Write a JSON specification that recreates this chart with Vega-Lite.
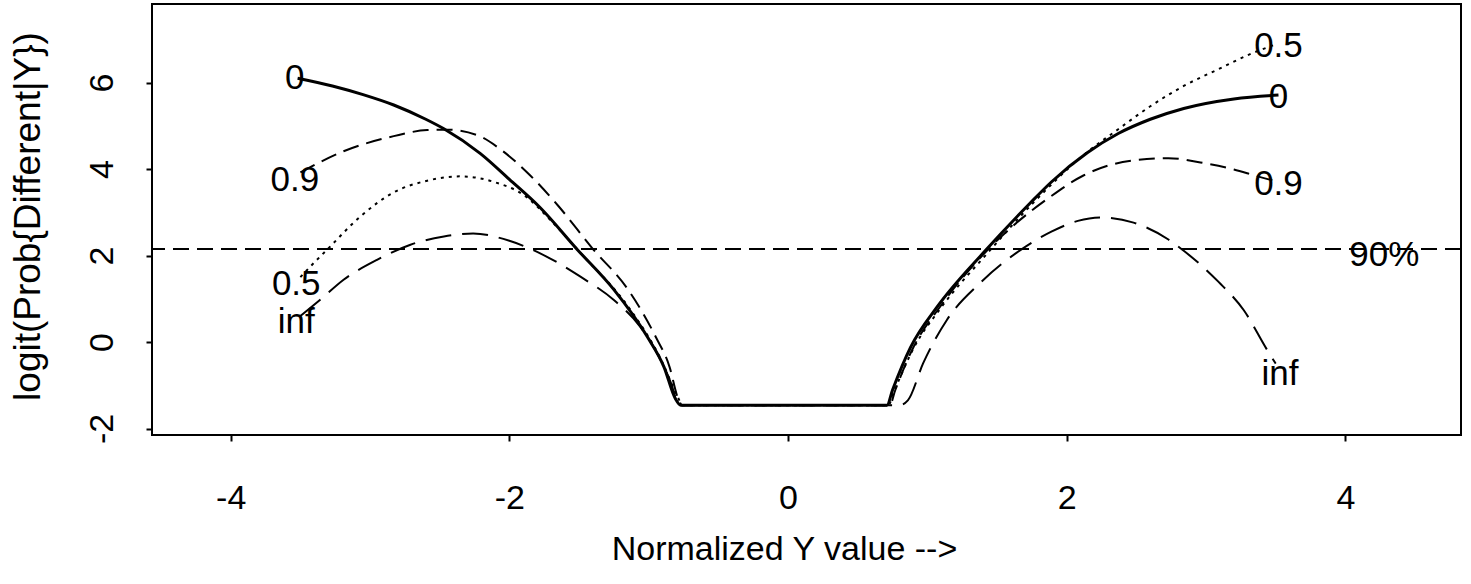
{
  "$schema": "https://vega.github.io/schema/vega-lite/v6.json",
  "width": 1309,
  "height": 431,
  "autosize": "none",
  "padding": {"left": 152, "top": 4, "right": 10, "bottom": 149},
  "background": "white",
  "config": {
    "view": {"stroke": "black", "strokeWidth": 2},
    "font": "Liberation Sans",
    "axis": {
      "domain": false, "grid": false, "ticks": true, "tickColor": "black", "tickWidth": 2, "tickSize": 6,
      "labelFont": "Liberation Sans", "labelFontSize": 34, "labelColor": "black", "labelFlush": false, "labelOverlap": false,
      "labelExpr": "'' + datum.value",
      "titleFont": "Liberation Sans", "titleFontSize": 34, "titleColor": "black", "titleFontWeight": "normal"
    },
    "axisX": {"labelPadding": 40, "labelBaseline": "top", "labelAngle": 0, "labelAlign": "center", "titleX": 632, "titleY": 124, "titleBaseline": "alphabetic", "titleAlign": "center", "titleAngle": 0},
    "axisY": {"labelAngle": -90, "labelAlign": "center", "labelBaseline": "alphabetic", "labelPadding": 34, "titleAngle": -90, "titleX": -113, "titleY": 212, "titleAlign": "center", "titleBaseline": "alphabetic", "titleFontSize": 37}
  },
  "datasets": {
    "curves": [
      {"series": "0", "x": -3.52, "y": 6.10}, {"series": "0", "x": -3.27, "y": 5.92}, {"series": "0", "x": -3.05, "y": 5.72}, {"series": "0", "x": -2.83, "y": 5.48}, {"series": "0", "x": -2.60, "y": 5.15}, {"series": "0", "x": -2.47, "y": 4.93}, {"series": "0", "x": -2.21, "y": 4.36}, {"series": "0", "x": -2.00, "y": 3.76}, {"series": "0", "x": -1.78, "y": 3.11}, {"series": "0", "x": -1.51, "y": 2.13}, {"series": "0", "x": -1.25, "y": 1.21}, {"series": "0", "x": -1.01, "y": 0.12}, {"series": "0", "x": -0.89, "y": -0.58}, {"series": "0", "x": -0.81, "y": -1.30}, {"series": "0", "x": -0.77, "y": -1.46}, {"series": "0", "x": 0.71, "y": -1.46}, {"series": "0", "x": 0.75, "y": -1.11}, {"series": "0", "x": 0.88, "y": -0.12}, {"series": "0", "x": 1.07, "y": 0.81}, {"series": "0", "x": 1.41, "y": 2.09}, {"series": "0", "x": 1.74, "y": 3.22}, {"series": "0", "x": 1.89, "y": 3.70}, {"series": "0", "x": 2.15, "y": 4.38}, {"series": "0", "x": 2.37, "y": 4.82}, {"series": "0", "x": 2.60, "y": 5.15}, {"series": "0", "x": 2.84, "y": 5.40}, {"series": "0", "x": 3.20, "y": 5.62}, {"series": "0", "x": 3.52, "y": 5.71},

      {"series": "0.9", "x": -3.50, "y": 3.92}, {"series": "0.9", "x": -3.19, "y": 4.41}, {"series": "0.9", "x": -2.83, "y": 4.76}, {"series": "0.9", "x": -2.59, "y": 4.90}, {"series": "0.9", "x": -2.45, "y": 4.91}, {"series": "0.9", "x": -2.23, "y": 4.78}, {"series": "0.9", "x": -2.05, "y": 4.42}, {"series": "0.9", "x": -1.85, "y": 3.85}, {"series": "0.9", "x": -1.65, "y": 3.15}, {"series": "0.9", "x": -1.40, "y": 2.15}, {"series": "0.9", "x": -1.15, "y": 1.22}, {"series": "0.9", "x": -0.95, "y": 0.12}, {"series": "0.9", "x": -0.85, "y": -0.58}, {"series": "0.9", "x": -0.79, "y": -1.30}, {"series": "0.9", "x": -0.76, "y": -1.46}, {"series": "0.9", "x": 0.73, "y": -1.46}, {"series": "0.9", "x": 0.77, "y": -1.11}, {"series": "0.9", "x": 0.90, "y": -0.12}, {"series": "0.9", "x": 1.09, "y": 0.81}, {"series": "0.9", "x": 1.43, "y": 2.12}, {"series": "0.9", "x": 1.62, "y": 2.70}, {"series": "0.9", "x": 1.87, "y": 3.33}, {"series": "0.9", "x": 2.12, "y": 3.85}, {"series": "0.9", "x": 2.32, "y": 4.10}, {"series": "0.9", "x": 2.48, "y": 4.20}, {"series": "0.9", "x": 2.73, "y": 4.25}, {"series": "0.9", "x": 2.96, "y": 4.15}, {"series": "0.9", "x": 3.20, "y": 3.99}, {"series": "0.9", "x": 3.37, "y": 3.83}, {"series": "0.9", "x": 3.50, "y": 3.72},

      {"series": "0.5", "x": -3.50, "y": 1.50}, {"series": "0.5", "x": -3.43, "y": 1.74}, {"series": "0.5", "x": -3.31, "y": 2.13}, {"series": "0.5", "x": -3.07, "y": 2.90}, {"series": "0.5", "x": -2.83, "y": 3.46}, {"series": "0.5", "x": -2.59, "y": 3.73}, {"series": "0.5", "x": -2.35, "y": 3.83}, {"series": "0.5", "x": -2.12, "y": 3.71}, {"series": "0.5", "x": -1.88, "y": 3.36}, {"series": "0.5", "x": -1.70, "y": 2.80}, {"series": "0.5", "x": -1.49, "y": 2.06}, {"series": "0.5", "x": -1.13, "y": 0.74}, {"series": "0.5", "x": -0.92, "y": -0.35}, {"series": "0.5", "x": -0.79, "y": -1.28}, {"series": "0.5", "x": -0.76, "y": -1.46}, {"series": "0.5", "x": 0.72, "y": -1.46}, {"series": "0.5", "x": 0.76, "y": -1.15}, {"series": "0.5", "x": 0.90, "y": -0.15}, {"series": "0.5", "x": 1.09, "y": 0.76}, {"series": "0.5", "x": 1.43, "y": 2.05}, {"series": "0.5", "x": 1.76, "y": 3.22}, {"series": "0.5", "x": 2.12, "y": 4.32}, {"series": "0.5", "x": 2.37, "y": 4.92}, {"series": "0.5", "x": 2.60, "y": 5.45}, {"series": "0.5", "x": 2.84, "y": 5.92}, {"series": "0.5", "x": 3.09, "y": 6.31}, {"series": "0.5", "x": 3.32, "y": 6.66}, {"series": "0.5", "x": 3.50, "y": 6.88},

      {"series": "inf", "x": -3.50, "y": 0.60}, {"series": "inf", "x": -3.36, "y": 0.97}, {"series": "inf", "x": -3.19, "y": 1.44}, {"series": "inf", "x": -2.95, "y": 1.90}, {"series": "inf", "x": -2.71, "y": 2.25}, {"series": "inf", "x": -2.47, "y": 2.44}, {"series": "inf", "x": -2.26, "y": 2.51}, {"series": "inf", "x": -2.00, "y": 2.34}, {"series": "inf", "x": -1.73, "y": 1.97}, {"series": "inf", "x": -1.49, "y": 1.51}, {"series": "inf", "x": -1.25, "y": 0.97}, {"series": "inf", "x": -1.06, "y": 0.35}, {"series": "inf", "x": -0.94, "y": -0.26}, {"series": "inf", "x": -0.84, "y": -0.95}, {"series": "inf", "x": -0.79, "y": -1.42}, {"series": "inf", "x": -0.77, "y": -1.46}, {"series": "inf", "x": 0.80, "y": -1.46}, {"series": "inf", "x": 0.86, "y": -1.35}, {"series": "inf", "x": 0.97, "y": -0.49}, {"series": "inf", "x": 1.14, "y": 0.51}, {"series": "inf", "x": 1.38, "y": 1.37}, {"series": "inf", "x": 1.67, "y": 2.13}, {"series": "inf", "x": 1.89, "y": 2.55}, {"series": "inf", "x": 2.08, "y": 2.80}, {"series": "inf", "x": 2.25, "y": 2.88}, {"series": "inf", "x": 2.48, "y": 2.76}, {"series": "inf", "x": 2.73, "y": 2.37}, {"series": "inf", "x": 2.84, "y": 2.11}, {"series": "inf", "x": 3.09, "y": 1.39}, {"series": "inf", "x": 3.27, "y": 0.74}, {"series": "inf", "x": 3.44, "y": -0.19}, {"series": "inf", "x": 3.50, "y": -0.50}
    ],
    "labels": [
      {"label": "0", "x": -3.54, "y": 6.14}, {"label": "0.9", "x": -3.54, "y": 3.79}, {"label": "0.5", "x": -3.53, "y": 1.38}, {"label": "inf", "x": -3.53, "y": 0.51},
      {"label": "0.5", "x": 3.52, "y": 6.89}, {"label": "0", "x": 3.52, "y": 5.71}, {"label": "0.9", "x": 3.52, "y": 3.69}, {"label": "inf", "x": 3.53, "y": -0.70},
      {"label": "90%", "x": 4.28, "y": 2.06}
    ],
    "threshold": [{"y": 2.15}]
  },
  "layer": [
    {
      "data": {"name": "threshold"},
      "mark": {"type": "rule", "color": "black", "strokeWidth": 2, "strokeDash": [16, 8]},
      "encoding": {
        "y": {"field": "y", "type": "quantitative", "scale": {"domain": [-2.15, 7.815], "nice": false, "zero": false}, "title": "logit(Prob{Different|Y})", "axis": {"values": [-2, 0, 2, 4, 6]}}
      }
    },
    {
      "data": {"name": "curves"},
      "transform": [{"filter": "datum.series == '0'"}],
      "mark": {"type": "line", "color": "black", "strokeWidth": 3, "interpolate": "monotone"},
      "encoding": {
        "x": {"field": "x", "type": "quantitative", "scale": {"domain": [-4.565, 4.83], "nice": false, "zero": false}, "title": "Normalized Y value -->", "axis": {"values": [-4, -2, 0, 2, 4]}},
        "y": {"field": "y", "type": "quantitative", "scale": {"domain": [-2.15, 7.815], "nice": false, "zero": false}, "title": "logit(Prob{Different|Y})"}
      }
    },
    {
      "data": {"name": "curves"},
      "transform": [{"filter": "datum.series == '0.9'"}],
      "mark": {"type": "line", "color": "black", "strokeWidth": 2, "strokeDash": [16, 8], "interpolate": "monotone"},
      "encoding": {
        "x": {"field": "x", "type": "quantitative", "scale": {"domain": [-4.565, 4.83], "nice": false, "zero": false}, "title": "Normalized Y value -->"},
        "y": {"field": "y", "type": "quantitative", "scale": {"domain": [-2.15, 7.815], "nice": false, "zero": false}, "title": "logit(Prob{Different|Y})"}
      }
    },
    {
      "data": {"name": "curves"},
      "transform": [{"filter": "datum.series == '0.5'"}],
      "mark": {"type": "line", "color": "black", "strokeWidth": 2, "strokeDash": [3, 5], "interpolate": "monotone"},
      "encoding": {
        "x": {"field": "x", "type": "quantitative", "scale": {"domain": [-4.565, 4.83], "nice": false, "zero": false}, "title": "Normalized Y value -->"},
        "y": {"field": "y", "type": "quantitative", "scale": {"domain": [-2.15, 7.815], "nice": false, "zero": false}, "title": "logit(Prob{Different|Y})"}
      }
    },
    {
      "data": {"name": "curves"},
      "transform": [{"filter": "datum.series == 'inf'"}],
      "mark": {"type": "line", "color": "black", "strokeWidth": 2, "strokeDash": [26, 11], "interpolate": "monotone"},
      "encoding": {
        "x": {"field": "x", "type": "quantitative", "scale": {"domain": [-4.565, 4.83], "nice": false, "zero": false}, "title": "Normalized Y value -->"},
        "y": {"field": "y", "type": "quantitative", "scale": {"domain": [-2.15, 7.815], "nice": false, "zero": false}, "title": "logit(Prob{Different|Y})"}
      }
    },
    {
      "data": {"name": "labels"},
      "mark": {"type": "text", "font": "Liberation Sans", "fontSize": 35, "color": "black", "align": "center", "baseline": "middle", "dy": 2},
      "encoding": {
        "x": {"field": "x", "type": "quantitative", "scale": {"domain": [-4.565, 4.83], "nice": false, "zero": false}, "title": "Normalized Y value -->"},
        "y": {"field": "y", "type": "quantitative", "scale": {"domain": [-2.15, 7.815], "nice": false, "zero": false}, "title": "logit(Prob{Different|Y})"},
        "text": {"field": "label"}
      }
    }
  ]
}
